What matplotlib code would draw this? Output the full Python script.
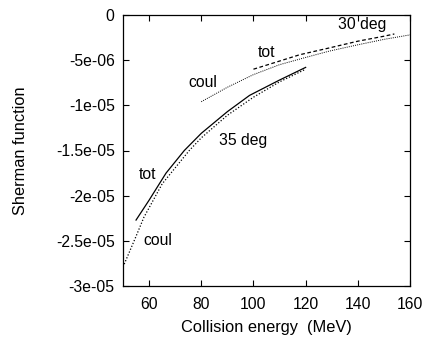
import matplotlib
matplotlib.use('Agg')
import matplotlib.pyplot as plt

plt.rcParams['font.family'] = ['Liberation Sans', 'DejaVu Sans']
plt.rcParams['font.size'] = 11.3

# 35 deg, total
e35_tot = [55, 60, 66.5, 73.5, 80, 90, 98.5, 110, 120]
s35_tot = [-2.27e-05, -2.05e-05, -1.75e-05, -1.50e-05, -1.31e-05, -1.07e-05, -0.89e-05, -0.72e-05, -0.58e-05]
# 35 deg, coulomb
e35_coul = [50, 55, 58, 65, 75.4, 80, 90, 100, 110, 120]
s35_coul = [-2.79e-05, -2.45e-05, -2.24e-05, -1.87e-05, -1.50e-05, -1.36e-05, -1.11e-05, -0.91e-05, -0.74e-05, -0.60e-05]
# 30 deg, total
e30_tot = [100, 110, 117.7, 129, 140, 150, 154]
s30_tot = [-0.60e-05, -0.51e-05, -0.44e-05, -0.365e-05, -0.29e-05, -0.235e-05, -0.21e-05]
# 30 deg, coulomb
e30_coul = [80, 90, 100, 110, 120, 129, 140, 150, 160]
s30_coul = [-0.96e-05, -0.80e-05, -0.66e-05, -0.55e-05, -0.47e-05, -0.40e-05, -0.33e-05, -0.27e-05, -0.22e-05]

xticks = [60, 80, 100, 120, 140, 160]
yticks = [0, -5e-06, -1e-05, -1.5e-05, -2e-05, -2.5e-05, -3e-05]
ylabels = ['0', '-5e-06', '-1e-05', '-1.5e-05', '-2e-05', '-2.5e-05', '-3e-05']

fig = plt.figure(figsize=(4.28, 3.38), dpi=100)
ax = fig.add_axes([123/428, 1 - 286/338, (410-123)/428, (286-15)/338])

ax.plot(e35_tot, s35_tot, color='black', lw=0.9, ls='-')
ax.plot(e35_coul, s35_coul, color='black', lw=0.9, ls=(0, (1, 1.5)))
ax.plot(e30_tot, s30_tot, color='black', lw=0.9, ls=(0, (3, 2)))
ax.plot(e30_coul, s30_coul, color='black', lw=0.7, ls=(0, (1, 1.2)))

ax.set_xlim(50, 160)
ax.set_ylim(-3e-05, 0)
ax.set_xticks(xticks)
ax.set_yticks(yticks)
ax.set_yticklabels(ylabels)
ax.tick_params(direction='in', top=True, right=True, length=4, width=0.8)
ax.tick_params(axis='y', pad=6)
ax.tick_params(axis='x', pad=8)
for sp in ax.spines.values():
    sp.set_linewidth(0.9)

ax.set_xlabel('Collision energy  (MeV)', labelpad=6, fontsize=11.8)
ax.set_ylabel('Sherman function', labelpad=20, fontsize=11.8)

ax.text(141.5, -0.11e-05, '30 deg', ha='center', va='center')
ax.text(105, -0.42e-05, 'tot', ha='center', va='center')
ax.text(80.5, -0.75e-05, 'coul', ha='center', va='center')
ax.text(96, -1.39e-05, '35 deg', ha='center', va='center')
ax.text(59.5, -1.77e-05, 'tot', ha='center', va='center')
ax.text(63.5, -2.50e-05, 'coul', ha='center', va='center')

fig.savefig('out.png', dpi=100)
